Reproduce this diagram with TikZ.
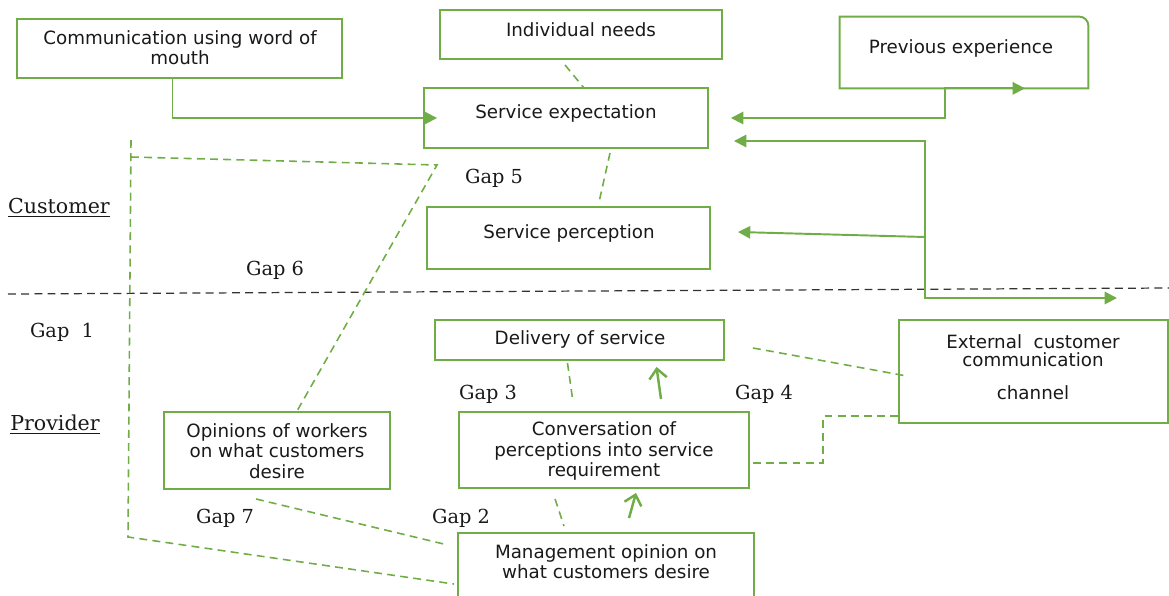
\documentclass[tikz,border=0pt]{standalone}
\usepackage{fontspec}
\setmainfont{DejaVu Sans}
\newfontfamily\gapfont{DejaVu Serif}
\usetikzlibrary{arrows.meta}
\usetikzlibrary{calc}
\usetikzlibrary{fit}
\definecolor{boxgreen}{HTML}{70AD47}

\begin{document}
\begin{tikzpicture}[x=0.02cm, y=-0.02cm,
  box/.style={draw=boxgreen, line width=1.1pt, inner sep=0pt},
  boxtext/.style={align=center, font=\fontsize{10.4}{11.5}\selectfont, text=black!90},
  gaptext/.style={font=\gapfont\fontsize{11}{13}\selectfont, text=black!90},
  sidetext/.style={font=\gapfont\fontsize{11.7}{14}\selectfont, text=black!90},
  flow/.style={draw=boxgreen, line width=1.1pt},
  gapline/.style={draw=boxgreen, line width=0.9pt, dash pattern=on 4.5pt off 3pt},
  push/.style={draw=boxgreen, line width=1.4pt}]
\def\l{7pt}
\def\w{7pt}

\useasboundingbox (0,0) rectangle (1169,595);

% boxes
\node [box, fit={(17,19) (342,78)}, name=comm] {};
\node [box, fit={(440,10) (722,59)}, name=needs] {};
\node [box, fit={(424,88) (708,148)}, name=expect] {};
\node [inner sep=0pt, fit={(840,17) (1088,88)}, name=prev] {};
\draw [flow] (prev.south west) -- (prev.north west) -- ($(prev.north east)+(-9,0)$) to[out=0, in=90] ($(prev.north east)+(0,9)$) -- (prev.south east) -- cycle;
\node [box, fit={(427,207) (710,269)}, name=percep] {};
\node [box, fit={(435,320) (724,360)}, name=deliv] {};
\node [box, fit={(899,320) (1168,423)}, name=ext] {};
\node [box, fit={(164,412) (390,489)}, name=workers] {};
\node [box, fit={(459,412) (749,488)}, name=conv] {};
\node [box, fit={(458,533) (754,612)}, name=mgmt] {};

% box texts
\node [boxtext, name=comm-t] at (180,48) {Communication using word of\\mouth};
\node [boxtext, name=needs-t] at (581,30) {Individual needs};
\node [boxtext, name=expect-t] at (566,113) {Service expectation};
\node [boxtext, name=prev-t] at (961,48) {Previous experience};
\node [boxtext, name=percep-t] at (569,233) {Service perception};
\node [boxtext, name=deliv-t] at (580,339) {Delivery of service};
\node [boxtext, name=ext-t] at (1033,367) {External\ \ customer\\[-1.2pt]communication\\[7.5pt]channel};
\node [boxtext, name=workers-t] at (277,451) {Opinions of workers\\on what customers\\desire};
\node [boxtext, name=conv-t] at (604,451) {Conversation of\\perceptions into service\\requirement};
\node [boxtext, name=mgmt-t] at (606,562) {Management opinion on\\what customers desire};

% side and gap labels
\node [sidetext, name=cust] at (59,208) {\underline{Customer}};
\node [sidetext, name=prov] at (55,425) {\underline{Provider}};
\node [gaptext, name=gap1] at (62,332) {Gap\ \ 1};
\node [gaptext, name=gap2] at (461,518) {Gap 2};
\node [gaptext, name=gap3] at (488,394) {Gap 3};
\node [gaptext, name=gap4] at (764,394) {Gap 4};
\node [gaptext, name=gap5] at (494,178) {Gap 5};
\node [gaptext, name=gap6] at (275,270) {Gap 6};
\node [gaptext, name=gap7] at (225,518) {Gap 7};

\draw [black!80, line width=0.7pt, dash pattern=on 4.5pt off 3pt] (8,294) -- (1169,288);

\coordinate (g6top) at (131,140);
\coordinate (g6bot) at (128,537);
\coordinate (g6left) at (131,157);
\coordinate (g6turn) at (437,165);
\coordinate (fork) at (925,237);
\coordinate (turn) at (925,298);
\coordinate (outlet) at (1117,298);

% solid flows
\draw [flow, -{Triangle[length=\l, width=\w]}] ($(comm.south)+(-7,0)$) |- ($(expect.west)+(14,0)$);
\draw [flow, {Triangle[length=\l, width=\w]}-{Triangle[length=\l, width=\w]}] ($(expect.east)+(22,0)$) -| ($(prev.south)+(-19,0)$) -- ($(prev.south)+(61,0)$);
\draw [flow, {Triangle[length=\l, width=\w]}-{Triangle[length=\l, width=\w]}] ($(expect.east)+(25,23)$) -| (turn) -- (outlet);
\draw [flow, -{Triangle[length=\l, width=\w]}] (fork) -- ($(percep.east)+(27,-6)$);
\draw [push, -{Straight Barb[length=5.5pt, width=10pt]}] ($(conv.north)+(57,-12)$) -- ($(deliv.south)+(77,6)$);
\draw [push, -{Straight Barb[length=5.5pt, width=10pt]}] ($(mgmt.north)+(23,-14)$) -- ($(conv.south)+(32,4)$);

% gaps
\draw [gapline] ($(needs.south)+(-16,5)$) -- ($(expect.north)+(18,1)$);
\draw [gapline] ($(expect.south)+(44,4)$) -- ($(percep.north)+(31,-6)$);
\draw [gapline] (g6top) -- (g6bot) -- ($(mgmt.north west)+(-3,52)$);
\draw [gapline] (g6left) -- (g6turn) -- ($(workers.north)+(20,0)$);
\draw [gapline] ($(workers.south)+(-21,9)$) -- ($(mgmt.north west)+(-9,13)$);
\draw [gapline] ($(deliv.south)+(-12,2)$) -- ($(conv.north)+(-31,-9)$);
\draw [gapline] ($(conv.south)+(-49,10)$) -- ($(mgmt.north)+(-42,-6)$);
\draw [gapline] ($(deliv.east)+(28,8)$) -- ($(ext.west)+(6,4)$);
\draw [gapline] ($(conv.east)+(3,13)$) -| ($(ext.south west)+(-75,-8)$) -- ($(ext.south west)+(0,-8)$);
\end{tikzpicture}
\end{document}
